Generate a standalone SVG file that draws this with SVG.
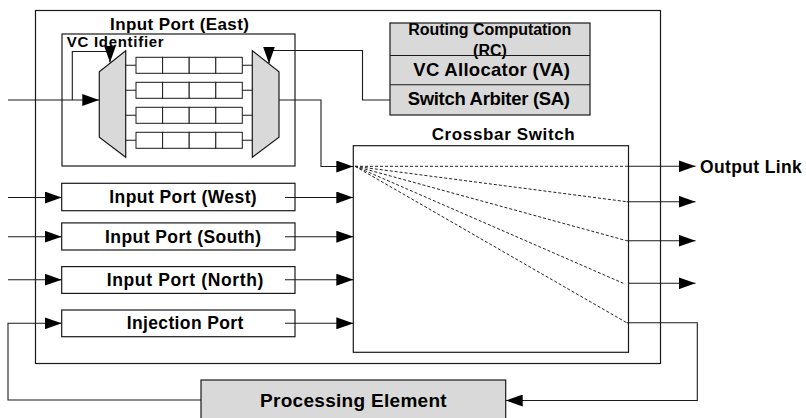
<svg xmlns="http://www.w3.org/2000/svg" width="806" height="418" viewBox="0 0 806 418">
  <style>
    .box { fill: #ffffff; stroke: #1a1a1a; stroke-width: 1.2; }
    .shade { fill: #d9d9d9; stroke: #1a1a1a; stroke-width: 1.2; }
    .cell { fill: #ffffff; stroke: #1a1a1a; stroke-width: 1; }
    .wire { fill: none; stroke: #1a1a1a; stroke-width: 1.1; }
    .dash { fill: none; stroke: #222222; stroke-width: 1; stroke-dasharray: 3 2; }
    .lbl { font-family: "Liberation Sans", Arial, sans-serif; font-weight: bold; fill: #000000; }
  </style>
  <defs>
    <marker id="arrow" viewBox="0 0 17 12" markerWidth="17" markerHeight="12" refX="17" refY="6" orient="auto" markerUnits="userSpaceOnUse">
      <path d="M0,0 L17,6 L0,12 z" fill="#000000"/>
    </marker>
  </defs>

  <!-- router boundary -->
  <g id="router">
    <rect class="box" x="35.5" y="10.5" width="625" height="353"/>
  </g>

  <!-- east input port with VC buffers -->
  <g id="input-east">
    <rect class="box" x="62" y="34" width="233" height="132"/>
    <text class="lbl" x="110" y="30" font-size="17" textLength="139">Input Port (East)</text>
    <text class="lbl" x="66.7" y="46.7" font-size="15" textLength="97">VC Identifier</text>
    <polygon class="shade" points="99.3,71.7 125.7,50.7 125.7,157.3 99.3,137.3"/>
    <polygon class="shade" points="252.3,50.7 279,71.7 279,137.3 252.3,157.3"/>
    <g id="vc-buffers">
      <g>
        <rect class="cell" x="136" y="57.3" width="26.6" height="16"/>
        <rect class="cell" x="162.6" y="57.3" width="26.6" height="16"/>
        <rect class="cell" x="189.2" y="57.3" width="26.6" height="16"/>
        <rect class="cell" x="215.8" y="57.3" width="26.5" height="16"/>
      </g>
      <g>
        <rect class="cell" x="136" y="82.3" width="26.6" height="16"/>
        <rect class="cell" x="162.6" y="82.3" width="26.6" height="16"/>
        <rect class="cell" x="189.2" y="82.3" width="26.6" height="16"/>
        <rect class="cell" x="215.8" y="82.3" width="26.5" height="16"/>
      </g>
      <g>
        <rect class="cell" x="136" y="107.3" width="26.6" height="16"/>
        <rect class="cell" x="162.6" y="107.3" width="26.6" height="16"/>
        <rect class="cell" x="189.2" y="107.3" width="26.6" height="16"/>
        <rect class="cell" x="215.8" y="107.3" width="26.5" height="16"/>
      </g>
      <g>
        <rect class="cell" x="136" y="132.3" width="26.6" height="16"/>
        <rect class="cell" x="162.6" y="132.3" width="26.6" height="16"/>
        <rect class="cell" x="189.2" y="132.3" width="26.6" height="16"/>
        <rect class="cell" x="215.8" y="132.3" width="26.5" height="16"/>
      </g>
    </g>
    <path class="wire" d="M125.7,65.3 H136 M125.7,90.3 H136 M125.7,115.3 H136 M125.7,140.3 H136 M242.3,65.3 H252.3 M242.3,90.3 H252.3 M242.3,115.3 H252.3 M242.3,140.3 H252.3"/>
  </g>

  <!-- pipeline control stages -->
  <g id="control">
    <rect x="390" y="23" width="200" height="92" fill="#d9d9d9"/>
    <text class="lbl" x="408.3" y="35.3" font-size="16" textLength="163">Routing Computation</text>
    <text class="lbl" x="490" y="55.5" font-size="16" text-anchor="middle">(RC)</text>
    <text class="lbl" x="413.3" y="76.3" font-size="18.5" textLength="156.7">VC Allocator (VA)</text>
    <text class="lbl" x="407.7" y="105.3" font-size="18.5" textLength="162.3">Switch Arbiter (SA)</text>
    <rect x="390" y="23" width="200" height="92" fill="none" stroke="#1a1a1a" stroke-width="1.2"/>
    <path class="wire" d="M390,55.5 H590 M390,84.7 H590"/>
  </g>

  <!-- crossbar -->
  <g id="crossbar">
    <rect class="box" x="353.3" y="145.7" width="275.2" height="206.6"/>
    <text class="lbl" x="431.7" y="140" font-size="17" textLength="143">Crossbar Switch</text>
  </g>

  <!-- remaining input ports -->
  <g id="input-west">
    <rect class="box" x="61.7" y="183.3" width="233.3" height="27.4"/>
    <text class="lbl" x="109.3" y="203.3" font-size="17.5" textLength="147.4">Input Port (West)</text>
  </g>
  <g id="input-south">
    <rect class="box" x="61.7" y="222.9" width="233.3" height="27.1"/>
    <text class="lbl" x="105" y="242.6" font-size="17.5" textLength="156">Input Port (South)</text>
  </g>
  <g id="input-north">
    <rect class="box" x="61.7" y="266.6" width="233.3" height="26.8"/>
    <text class="lbl" x="106.7" y="285.5" font-size="17.5" textLength="156.6">Input Port (North)</text>
  </g>
  <g id="injection-port">
    <rect class="box" x="61.7" y="310" width="233.3" height="26.7"/>
    <text class="lbl" x="126.7" y="329" font-size="17.5" textLength="116.6">Injection Port</text>
  </g>

  <!-- local processing element -->
  <g id="processing-element">
    <rect class="shade" x="201" y="380" width="304.7" height="50"/>
    <text class="lbl" x="260" y="406.7" font-size="19" textLength="186.7">Processing Element</text>
  </g>

  <g id="output-label">
    <text class="lbl" x="700" y="173.3" font-size="17.5" textLength="101.7">Output Link</text>
  </g>

  <!-- connectors -->
  <g id="connectors">
    <path class="wire" d="M8,100 H99.3" marker-end="url(#arrow)"/>
    <path class="wire" d="M72.3,100 V51.5 H110 V62.5" marker-end="url(#arrow)"/>
    <path class="wire" d="M390,100 H362.5 V50.5 H269 V63.5" marker-end="url(#arrow)"/>
    <path class="wire" d="M279,100 H321 V166.5 H353.3" marker-end="url(#arrow)"/>

    <path class="wire" d="M8,197.5 H61.7" marker-end="url(#arrow)"/>
    <path class="wire" d="M8,236.7 H61.7" marker-end="url(#arrow)"/>
    <path class="wire" d="M8,279.7 H61.7" marker-end="url(#arrow)"/>
    <path class="wire" d="M201,400 H8 V323.3 H61.7" marker-end="url(#arrow)"/>

    <path class="wire" d="M285,197.5 H353.3" marker-end="url(#arrow)"/>
    <path class="wire" d="M285,236.7 H353.3" marker-end="url(#arrow)"/>
    <path class="wire" d="M285,279.7 H353.3" marker-end="url(#arrow)"/>
    <path class="wire" d="M285,323.3 H353.3" marker-end="url(#arrow)"/>

    <path class="dash" d="M355,166.3 L626.5,166.3"/>
    <path class="dash" d="M355,166.3 L626.7,201.7"/>
    <path class="dash" d="M355,166.3 L626.7,240.7"/>
    <path class="dash" d="M355,166.3 L623.3,283.3"/>
    <path class="dash" d="M355,166.3 L626.7,322.7"/>

    <path class="wire" d="M626.5,166.3 H695.5" marker-end="url(#arrow)"/>
    <path class="wire" d="M626.7,201.7 H695.5" marker-end="url(#arrow)"/>
    <path class="wire" d="M626.7,240.7 H695.5" marker-end="url(#arrow)"/>
    <path class="wire" d="M628.3,283.3 H695.5" marker-end="url(#arrow)"/>
    <path class="wire" d="M626.7,322.7 H697.3 V400.5 H505.7" marker-end="url(#arrow)"/>
  </g>
</svg>
